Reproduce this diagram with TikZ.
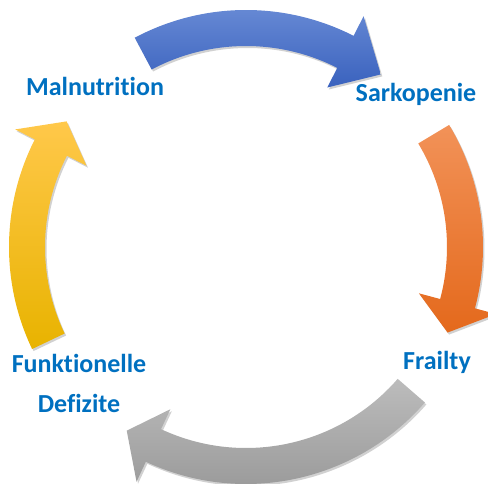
\documentclass[tikz,border=0pt]{standalone}
\usepackage{fontspec}
\setmainfont[Ligatures={TeX,NoCommon}]{Carlito}
\usetikzlibrary{calc}
\definecolor{titelblau}{HTML}{0070C0}
\definecolor{blauhell}{HTML}{6A8CD6}
\definecolor{blaudunkel}{HTML}{3A62BE}
\definecolor{orangehell}{HTML}{F29258}
\definecolor{orangedunkel}{HTML}{E4691C}
\definecolor{grauhell}{HTML}{BCBCBC}
\definecolor{graudunkel}{HTML}{959595}
\definecolor{gelbhell}{HTML}{FFC84A}
\definecolor{gelbdunkel}{HTML}{E8B300}
% arrow on the circle: start angle, angle of the head base, angle of the tip, shading
\newcommand{\kreispfeil}[4]{%
  \fill[schatten,shift={(1.5,-2)}] (#1:237) arc[start angle=#1,end angle=#2,radius=237]
    -- (#2:259) -- (#3:219) -- (#2:179) -- (#2:201)
    arc[start angle=#2,end angle=#1,radius=201] -- cycle;
  \shade[#4] (#1:237) arc[start angle=#1,end angle=#2,radius=237]
    -- (#2:259) -- (#3:219) -- (#2:179) -- (#2:201)
    arc[start angle=#2,end angle=#1,radius=201] -- cycle;
}

\begin{document}
\begin{tikzpicture}[
  x=1pt,y=1pt,
  schatten/.style={fill=black,opacity=0.18},
  lab/.style={font=\fontsize{26}{40}\selectfont\bfseries,text=titelblau,inner sep=0pt,anchor=base,align=center}
]
  \useasboundingbox (0,0) rectangle (488,484);

  \begin{scope}[shift={(246,237)}]
    \kreispfeil{118}{63}{52}{top color=blauhell,bottom color=blaudunkel}
    \kreispfeil{31}{-15}{-23}{top color=orangehell,bottom color=orangedunkel}
    \kreispfeil{-41}{-115}{-123}{top color=grauhell,bottom color=graudunkel}
    \kreispfeil{205.5}{153}{145}{top color=gelbhell,bottom color=gelbdunkel}
  \end{scope}

  \node[lab] (mal) at (95,388) {Malnutrition};
  \node[lab] (sark) at (416,382) {Sarkopenie};
  \node[lab] (frail) at (437,114) {Frailty};
  % base anchor sits on the last line here
  \node[lab] (funk) at (79,71) {Funktionelle\\Defizite};
\end{tikzpicture}
\end{document}
